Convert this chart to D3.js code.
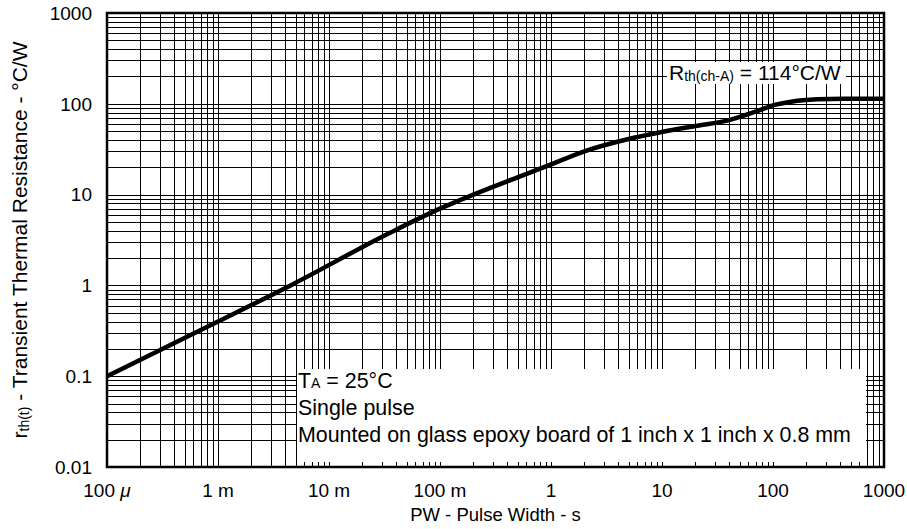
<!DOCTYPE html>
<html>
<head>
<meta charset="utf-8">
<script src="https://cdn.jsdelivr.net/npm/d3@7"></script>
<style>
  body { margin: 0; background: #fff; }
  svg { font-family: "Liberation Sans", Arial, sans-serif; }
</style>
</head>
<body>
<div id="chart"></div>
<script>
var width = 907;
var height = 529;

// pulse width (s) vs transient thermal resistance (°C/W)
var pulseWidth = [1e-4, 1e-3, 4.5e-3, 0.0355, 0.1, 0.2, 0.5, 1, 2, 5, 10, 20, 40, 70, 100, 150, 250, 430, 1000];
var rth = [0.1, 0.4, 1.0, 3.8, 7.0, 10, 15.5, 21.5, 30, 41, 49, 57, 66, 82, 96, 106, 112, 114, 114];

var xTicks = [1e-4, 1e-3, 1e-2, 1e-1, 1, 10, 100, 1000];
var xTickLabels = ["100 ", "1 m", "10 m", "100 m", "1", "10", "100", "1000"];
var yTicks = [0.01, 0.1, 1, 10, 100, 1000];
var yTickLabels = ["0.01", "0.1", "1", "10", "100", "1000"];

var svg = d3.select("div#chart").append("svg")
    .attr("width", width)
    .attr("height", height);

var plotLeft = 107, plotRight = 884, plotTop = 13, plotBottom = 467;

var xScale = d3.scaleLog().domain([1e-4, 1e3]).range([plotLeft, plotRight]);
var yScale = d3.scaleLog().domain([0.01, 1e3]).range([plotBottom, plotTop]);

// grid: every 1..9 of each decade
var xGrid = [], yGrid = [];
for (var d = -4; d < 3; d++) for (var k = 1; k < 10; k++) xGrid.push(k * Math.pow(10, d));
for (var d2 = -2; d2 < 3; d2++) for (var k2 = 1; k2 < 10; k2++) yGrid.push(k2 * Math.pow(10, d2));

svg.append("g").selectAll("line")
    .data(xGrid)
    .enter()
    .append("line")
    .attr("x1", function(d){ return Math.round(xScale(d)) + 0.5; })
    .attr("x2", function(d){ return Math.round(xScale(d)) + 0.5; })
    .attr("y1", plotTop)
    .attr("y2", plotBottom)
    .attr("stroke", "#000")
    .attr("stroke-width", 1);

svg.append("g").selectAll("line")
    .data(yGrid)
    .enter()
    .append("line")
    .attr("y1", function(d){ return Math.round(yScale(d)) + 0.5; })
    .attr("y2", function(d){ return Math.round(yScale(d)) + 0.5; })
    .attr("x1", plotLeft)
    .attr("x2", plotRight)
    .attr("stroke", "#000")
    .attr("stroke-width", 1);

// white label boxes that hide the grid
svg.append("rect")
    .attr("x", 667).attr("y", 62)
    .attr("width", 179).attr("height", 22)
    .attr("fill", "#fff");

svg.append("rect")
    .attr("x", 297).attr("y", 369)
    .attr("width", 569).attr("height", 93)
    .attr("fill", "#fff");

// the curve
var line = d3.line()
    .x(function(d, i){ return xScale(pulseWidth[i]); })
    .y(function(d){ return yScale(d); })
    .curve(d3.curveMonotoneX);

svg.append("path")
    .datum(rth)
    .attr("d", line)
    .attr("fill", "none")
    .attr("stroke", "#000")
    .attr("stroke-width", 4.5)
    .attr("stroke-linejoin", "round");

// frame
svg.append("rect")
    .attr("x", plotLeft).attr("y", plotTop)
    .attr("width", plotRight - plotLeft).attr("height", plotBottom - plotTop)
    .attr("fill", "none")
    .attr("stroke", "#000")
    .attr("stroke-width", 2.5);

// tick labels
var xl = svg.append("g").selectAll("text")
    .data(xTicks)
    .enter()
    .append("text")
    .attr("x", function(d){ return xScale(d); })
    .attr("y", 497)
    .attr("text-anchor", "middle")
    .attr("font-size", 19)
    .text(function(d, i){ return xTickLabels[i]; });
xl.filter(function(d, i){ return i == 0; })
    .append("tspan")
    .attr("font-style", "italic")
    .text("\u03bc");

svg.append("g").selectAll("text")
    .data(yTicks)
    .enter()
    .append("text")
    .attr("x", 92)
    .attr("y", function(d){ return yScale(d); })
    .attr("dy", "0.36em")
    .attr("text-anchor", "end")
    .attr("font-size", 19)
    .text(function(d, i){ return yTickLabels[i]; });

// axis titles
svg.append("text")
    .attr("x", (plotLeft + plotRight) / 2)
    .attr("y", 521)
    .attr("text-anchor", "middle")
    .attr("font-size", 18.5)
    .text("PW - Pulse Width - s");

var yt = svg.append("text")
    .attr("transform", "translate(27," + ((plotTop + plotBottom) / 2) + ") rotate(-90)")
    .attr("text-anchor", "middle")
    .attr("font-size", 21);
yt.append("tspan").text("r");
yt.append("tspan").attr("font-size", 14).attr("dy", 2).text("th(t)");
yt.append("tspan").attr("dy", -2).text(" - Transient Thermal Resistance - \u00b0C/W");

// annotations
var rt = svg.append("text")
    .attr("x", 669).attr("y", 80)
    .attr("font-size", 21);
rt.append("tspan").text("R");
rt.append("tspan").attr("font-size", 14).attr("dy", 1).text("th(ch-A)");
rt.append("tspan").attr("dy", -1).text(" = 114\u00b0C/W");

var ta = svg.append("text")
    .attr("x", 298).attr("y", 388)
    .attr("font-size", 21.4);
ta.append("tspan").text("T");
ta.append("tspan").attr("font-size", 14).text("A");
ta.append("tspan").text(" = 25\u00b0C");

svg.append("text")
    .attr("x", 298).attr("y", 415)
    .attr("font-size", 21.4)
    .text("Single pulse");

svg.append("text")
    .attr("x", 298).attr("y", 442)
    .attr("font-size", 21.4)
    .text("Mounted on glass epoxy board of 1 inch x 1 inch x 0.8 mm");
</script>
</body>
</html>
